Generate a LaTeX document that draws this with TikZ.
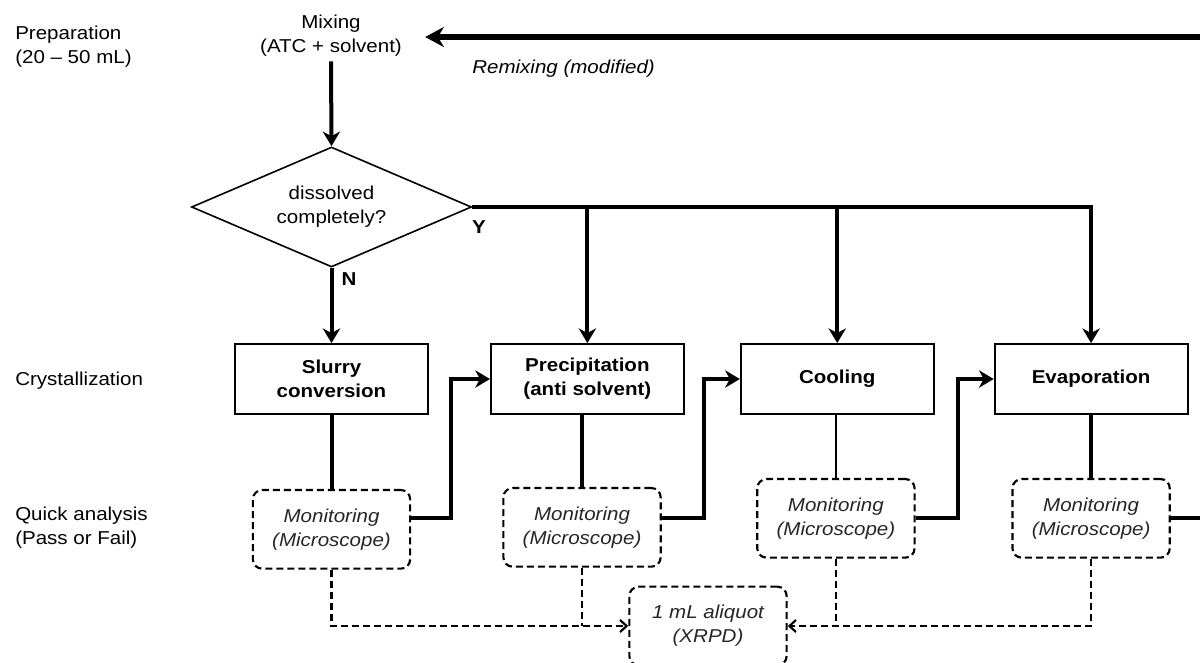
\documentclass[tikz,border=0pt]{standalone}
\usepackage{fontspec}
\setmainfont{Liberation Sans}[FakeStretch=1.1]
\usetikzlibrary{positioning,arrows.meta,shapes.geometric}

\begin{document}
\begin{tikzpicture}[x=0.75pt, y=-0.75pt, >={Stealth[length=11pt,width=13pt,inset=3.5pt]},
  font=\fontsize{14}{18}\selectfont,
  flow/.style={line width=3pt},
  topflow/.style={line width=3.8pt, -{Stealth[length=14pt,width=15pt,inset=4.5pt]}},
  thinflow/.style={line width=1.4pt},
  dashline/.style={line width=1.6pt, dash pattern=on 5.25pt off 3pt},
  dasharrow/.style={dashline, -{Straight Barb[length=5pt,width=9pt]}},
  box/.style={draw, line width=1.4pt, minimum width=144.75pt, minimum height=52.5pt, align=center, font=\fontsize{14}{18}\selectfont\bfseries},
  mon/.style={draw, dashline, rounded corners=7pt, minimum width=118pt, minimum height=59pt, align=center, font=\fontsize{14}{18}\selectfont\itshape, text=black!85},
  decision/.style={diamond, draw, line width=1.2pt, aspect=2.33, minimum width=210pt, minimum height=90pt, inner sep=0pt, align=center},
  stage/.style={anchor=west, inner sep=0pt, align=left}]
\useasboundingbox (0,0) rectangle (1200,662);
% stage labels
\node[stage] (prep) at (15,47) {Preparation\\(20 – 50 mL)};
\node[stage] (cryst) at (15,381) {Crystallization};
\node[stage] (quick) at (15,528) {Quick analysis\\(Pass or Fail)};
% preparation
\node[align=center] (mix) at (331,36) {Mixing\\(ATC + solvent)};
\coordinate (rmx) at (1200,37);
\node[anchor=west, inner sep=0pt, font=\fontsize{14}{18}\selectfont\itshape] (remix) at (472,69) {Remixing (modified)};
\node[decision] (diss) at (331.5,207) {dissolved\\completely?};
\node[font=\fontsize{14}{18}\selectfont\bfseries, inner sep=0pt] (ylab) at (479,227) {Y};
\node[font=\fontsize{14}{18}\selectfont\bfseries, inner sep=0pt] (nlab) at (349,279) {N};
% crystallization
\node[box] (slurry) at (331.5,379) {Slurry\\conversion};
\node[box, right=45.75pt of slurry] (prec) {Precipitation\\(anti solvent)};
\node[box, right=41.25pt of prec] (cool) {Cooling};
\node[box, right=44.25pt of cool] (evap) {Evaporation};
% quick analysis
\node[mon, below=55.5pt of slurry] (mon1) {Monitoring\\(Microscope)};
\node[mon, below=54pt of prec, xshift=-4pt] (mon2) {Monitoring\\(Microscope)};
\node[mon, below=47.25pt of cool, xshift=-1pt] (mon3) {Monitoring\\(Microscope)};
\node[mon, below=47.25pt of evap] (mon4) {Monitoring\\(Microscope)};
\node[mon] (xrpd) at (708,626) {1 mL aliquot\\(XRPD)};
% connectors
\draw[topflow] (rmx) -- (mix.east |- rmx) [shorten >=14pt];
\draw[flow,->] (mix.south) -- (diss.north);
\draw[flow,->] (diss.south) -- (slurry.north);
\draw[flow,->] (diss.east) -| (evap.north);
\draw[flow,->] (diss.east -| prec.north) -- (prec.north);
\draw[flow,->] (diss.east -| cool.north) -- (cool.north);
\draw[flow] (slurry.south) -- (mon1.north);
\draw[flow] (mon2.north |- prec.south) -- (mon2.north);
\draw[thinflow] (mon3.north |- cool.south) -- (mon3.north);
\draw[flow] (mon4.north |- evap.south) -- (mon4.north);
\draw[flow,->] (mon1.east |- mon3) -- ++(30pt,0) |- (prec.west);
\draw[flow,->] (mon2.east |- mon3) -- ++(31.5pt,0) |- (cool.west);
\draw[flow,->] (mon3.east) -- ++(31.5pt,0) |- (evap.west);
\draw[flow] (mon4.east) -- ++(40pt,0);
\draw[dasharrow] (mon1.south) |- (xrpd.west);
\draw[dashline] (mon2.south) -- (mon2.south |- xrpd.west);
\draw[dasharrow] (mon4.south) |- (xrpd.east);
\draw[dashline] (mon3.south) -- (mon3.south |- xrpd.east);
\end{tikzpicture}
\end{document}
